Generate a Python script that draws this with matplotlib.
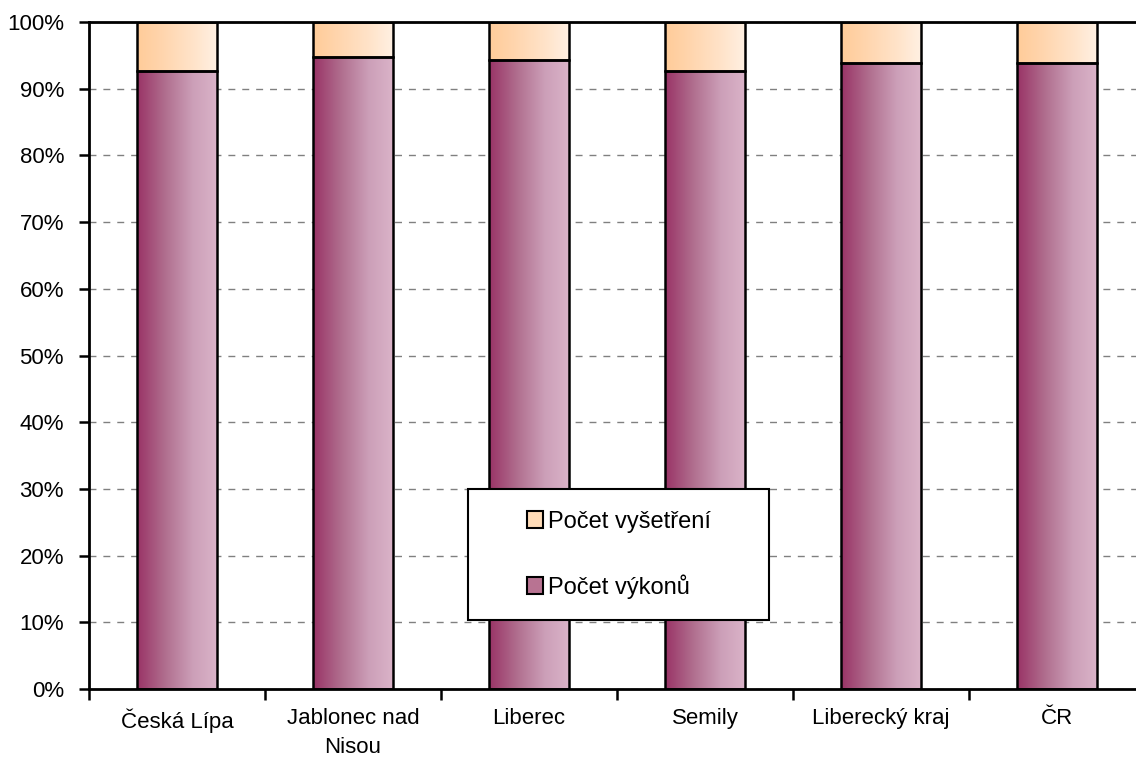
import matplotlib.pyplot as plt
import numpy as np
from matplotlib.colors import LinearSegmentedColormap
from matplotlib.patches import Patch, Rectangle
from matplotlib.ticker import PercentFormatter, FixedLocator

plt.rcParams['font.family'] = ['Liberation Sans', 'DejaVu Sans']

categories = ['Česká Lípa', 'Jablonec nad\nNisou', 'Liberec', 'Semily', 'Liberecký kraj', 'ČR']
vykony = [92.7, 94.75, 94.35, 92.7, 93.9, 93.85]      # Počet výkonů (%)
vysetreni = [7.3, 5.25, 5.65, 7.3, 6.1, 6.15]         # Počet vyšetření (%)

purple_cmap = LinearSegmentedColormap.from_list(
    'purple', [(0, '#993366'), (0.35, '#b06e8e'), (0.7, '#cc9fb8'), (1, '#dab3c8')])
orange_cmap = LinearSegmentedColormap.from_list(
    'orange', [(0, '#ffcc99'), (0.25, '#ffd3a9'), (0.7, '#ffe3c9'), (1, '#fff0e2')])

fig = plt.figure(figsize=(11.36, 7.69), dpi=100)
ax = fig.add_axes([89 / 1136, 1 - 689 / 769, 1056 / 1136, 667 / 769])

x = np.arange(len(categories))
width = 0.45
b1 = ax.bar(x, vykony, width, color='none', edgecolor='black', linewidth=1.8,
            zorder=3, label='Počet výkonů')
b2 = ax.bar(x, vysetreni, width, bottom=vykony, color='none', edgecolor='black',
            linewidth=1.8, zorder=3, label='Počet vyšetření')

# horizontal gradient fill clipped to each bar
grad = np.linspace(0, 1, 256).reshape(1, -1)
for bars, cmap in ((b1, purple_cmap), (b2, orange_cmap)):
    for p in bars:
        x0, y0 = p.get_x(), p.get_y()
        im = ax.imshow(grad, cmap=cmap, aspect='auto', zorder=2,
                       extent=(x0, x0 + p.get_width(), y0, y0 + p.get_height()))
        im.set_clip_path(p)

ax.set_xlim(-0.5, len(categories) - 0.5)
ax.set_ylim(0, 100)

ax.set_yticks(np.arange(0, 101, 10))
ax.yaxis.set_major_formatter(PercentFormatter(decimals=0))
ax.yaxis.grid(True, linestyle=(0, (5, 5)), color='#808080', linewidth=1, zorder=0)
ax.set_axisbelow(True)

ax.set_xticks(x)
ax.set_xticklabels(categories, linespacing=1.45)
ax.xaxis.set_minor_locator(FixedLocator(np.arange(-0.5, len(categories), 1)))
ax.tick_params(axis='x', which='major', length=0, pad=14, labelsize=16)
ax.tick_params(axis='x', which='minor', length=8, width=1.8, direction='out')
ax.tick_params(axis='y', length=7, width=1.8, direction='out', labelsize=16, pad=11)

for side in ('left', 'bottom', 'top'):
    ax.spines[side].set_linewidth(2)
ax.spines['right'].set_visible(False)

# legend box
ax.add_patch(Rectangle((0.359, 0.103), 0.285, 0.197, transform=ax.transAxes,
                       facecolor='white', edgecolor='black', linewidth=1.5, zorder=5))
handles = [Patch(facecolor='#ffdcb8', edgecolor='black', linewidth=1.5),
           Patch(facecolor='#b87392', edgecolor='black', linewidth=1.5)]
leg = ax.legend(handles, ['Počet vyšetření', 'Počet výkonů'],
                loc='center', bbox_to_anchor=(0.359 + 0.1425, 0.103 + 0.0985),
                frameon=False, fontsize=17, labelspacing=1.75,
                handlelength=0.7, handleheight=0.7, handletextpad=0.2)
leg.set_zorder(6)

fig.savefig('out.png', dpi=100)
